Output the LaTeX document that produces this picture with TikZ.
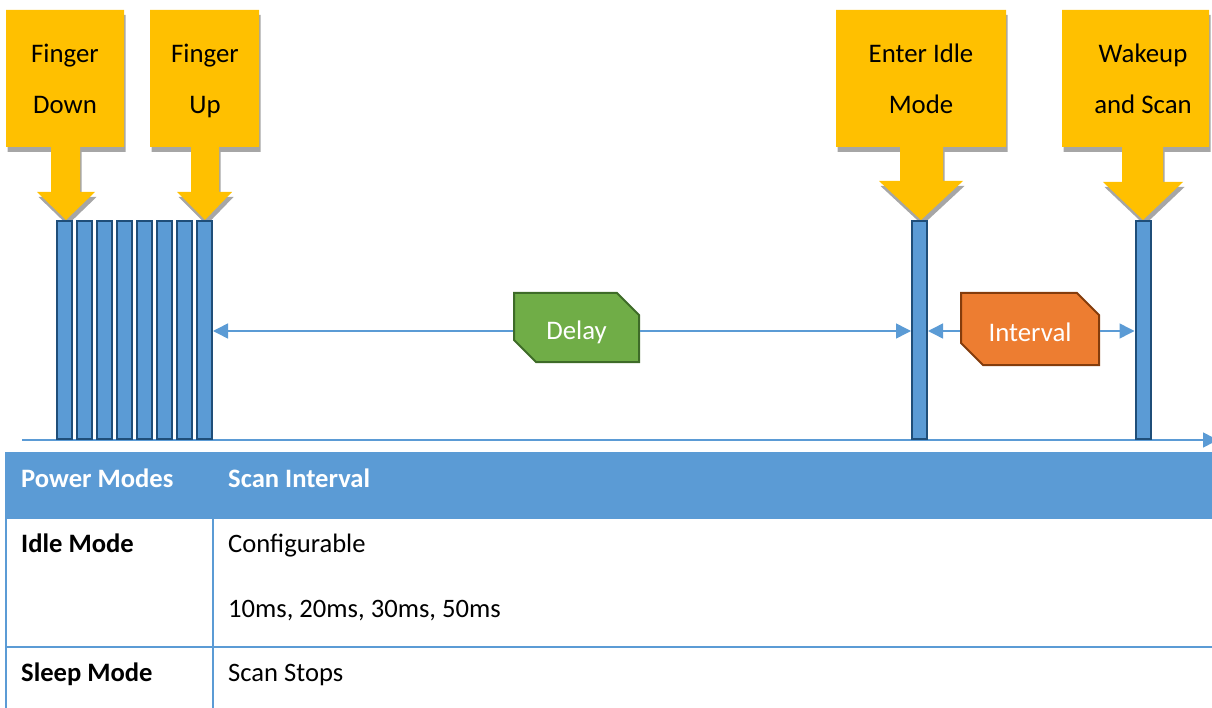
\documentclass[tikz,border=0pt]{standalone}
\usepackage{fontspec}
\setmainfont{Carlito}
\usetikzlibrary{arrows.meta,shapes.misc}
\definecolor{callyellow}{HTML}{FFC000}
\definecolor{shadowgray}{HTML}{A6A6A6}
\definecolor{barblue}{HTML}{5B9BD5}
\definecolor{bardark}{HTML}{1F4E79}
\definecolor{delaygreen}{HTML}{70AD47}
\definecolor{delaydark}{HTML}{3E6B28}
\definecolor{intorange}{HTML}{ED7D31}
\definecolor{intdark}{HTML}{843C0C}
\definecolor{tblue}{HTML}{5B9BD5}
\begin{document}
\begin{tikzpicture}[x=1pt,y=-1pt,
  calloutshape/.style={fill=callyellow},
  calloutshadow/.style={fill=shadowgray},
  calltext/.style={font=\fontsize{26.8}{30}\selectfont, anchor=base, inner sep=0pt, text=black},
  barbox/.style={draw=bardark, line width=2pt, fill=barblue, minimum width=15pt, minimum height=218pt, inner sep=0pt},
  conn/.style={draw=barblue, line width=1.5pt, -{Triangle[length=15pt,width=15pt]}},
  label box/.style={chamfered rectangle, chamfered rectangle corners={north east,south west},
    chamfered rectangle xsep=11pt, chamfered rectangle ysep=11pt, line width=2pt, inner sep=0pt,
    text=white, font=\fontsize{26.8}{30}\selectfont, text height=25pt, text depth=0pt},
  tline/.style={draw=tblue, line width=2pt},
  thead/.style={font=\bfseries\fontsize{26.6}{30}\selectfont, text=white, anchor=base west, inner sep=0pt},
  tbold/.style={font=\bfseries\fontsize{26.6}{30}\selectfont, text=black, anchor=base west, inner sep=0pt},
  tcell/.style={font=\fontsize{26.6}{30}\selectfont, text=black, anchor=base west, inner sep=0pt}]
\useasboundingbox (0,0) rectangle (1212,708);
\clip (0,0) rectangle (1212,708);

% time axis
\coordinate (axs) at (22,440);
\coordinate (axe) at (1218,440);
\draw[conn] (axs) -- (axe);

% callouts (shadow + shape)
\foreach \l/\r/\sl/\sr/\hl/\hr/\tx/\ht in {6/124/51/80/37/95/66/192, 150/259/191/219/177/232/205/192, 836/1006/900/943/879/963/921/181, 1062/1209/1122/1163/1103/1183/1143/182}{
  \fill[calloutshadow, shift={(1.5,5)}] (\l,10) -- (\r,10) -- (\r,147) -- (\sr,147) -- (\sr,\ht) -- (\hr,\ht) -- (\tx,220) -- (\hl,\ht) -- (\sl,\ht) -- (\sl,147) -- (\l,147) -- cycle;
  \fill[calloutshape] (\l,10) -- (\r,10) -- (\r,147) -- (\sr,147) -- (\sr,\ht) -- (\hr,\ht) -- (\tx,220) -- (\hl,\ht) -- (\sl,\ht) -- (\sl,147) -- (\l,147) -- cycle;
}
\node[calltext] (t1a) at (65,63) {Finger};
\node[calltext] (t1b) at (65,114) {Down};
\node[calltext] (t2a) at (205,63) {Finger};
\node[calltext] (t2b) at (205,114) {Up};
\node[calltext] (t3a) at (921,63) {Enter Idle};
\node[calltext] (t3b) at (921,114) {Mode};
\node[calltext] (t4a) at (1143,63) {Wakeup};
\node[calltext] (t4b) at (1143,114) {and Scan};

% bars
\foreach \i/\x in {1/64.5,2/84.5,3/104.5,4/124.5,5/144.5,6/164.5,7/184.5,8/204.5,9/919.5,10/1143}{
  \node[barbox] (b\i) at (\x,330) {};
}

% delay and interval
\coordinate (ly) at (0,331);
\node[label box, fill=delaygreen, draw=delaydark, minimum width=125pt, minimum height=69pt] (delay) at (576.5,327.5) {Delay};
\node[label box, fill=intorange, draw=intdark, minimum width=138pt, minimum height=72pt] (interval) at (1030,329) {Interval};
\draw[conn] (delay.west |- ly) -- (b8.east |- ly);
\draw[conn] (delay.east |- ly) -- (b9.west |- ly);
\draw[conn] (interval.west |- ly) -- (b9.east |- ly);
\draw[conn] (interval.east |- ly) -- (b10.west |- ly);

% table
\fill[tblue] (5,452) rectangle (1212,519);
\draw[tline] (6,519) -- (6,708);
\draw[tline] (213,519) -- (213,708);
\draw[tline] (6,647) -- (1212,647);
\node[thead] (h1) at (21,487) {Power Modes};
\node[thead] (h2) at (228,487) {Scan Interval};
\node[tbold] (r1a) at (21,552) {Idle Mode};
\node[tcell] (r1b) at (228,552) {Configurable};
\node[tcell] (r1c) at (228,617) {10ms, 20ms, 30ms, 50ms};
\node[tbold] (r2a) at (21,681) {Sleep Mode};
\node[tcell] (r2b) at (228,681) {Scan Stops};
\end{tikzpicture}
\end{document}
